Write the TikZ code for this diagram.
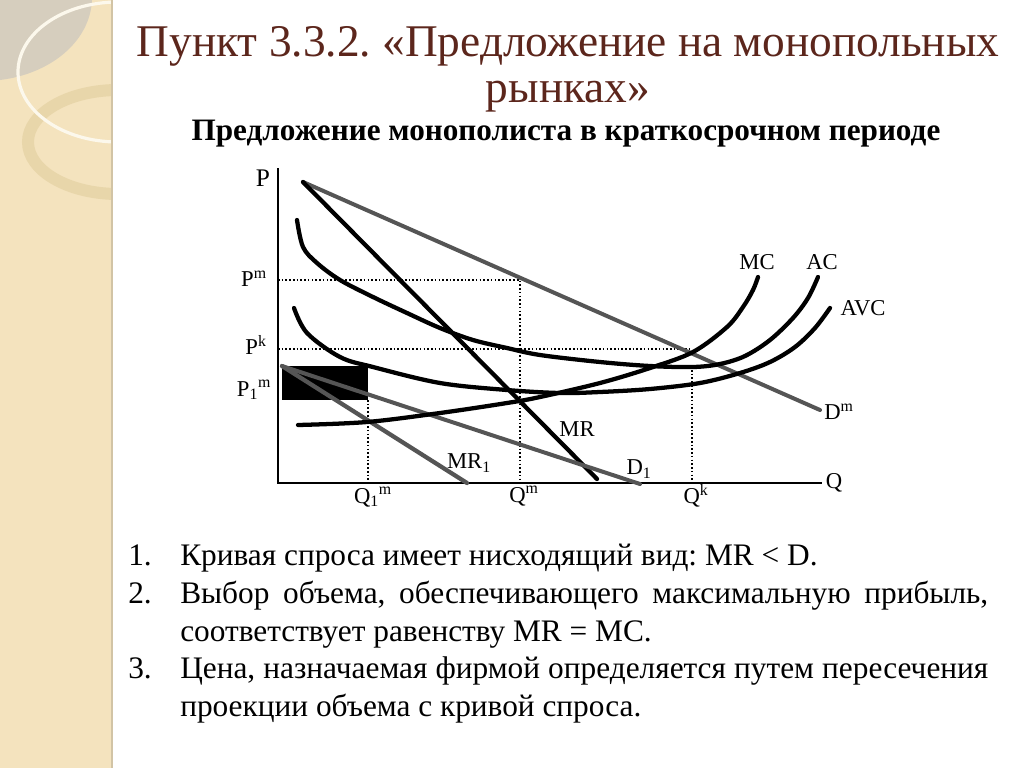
\documentclass[tikz,border=0pt]{standalone}
\usepackage{fontspec}
\setmainfont{Liberation Serif}
\frenchspacing
\definecolor{stripc}{RGB}{244,227,190}
\definecolor{grayreg}{RGB}{214,206,190}
\definecolor{goldring}{RGB}{232,214,170}
\definecolor{whitering}{RGB}{252,248,236}
\definecolor{stripedge}{RGB}{210,196,165}
\definecolor{titlec}{RGB}{92,38,28}
\definecolor{dline}{RGB}{85,85,85}
\begin{document}
\begin{tikzpicture}[x=0.75pt,y=-0.75pt,
  axis/.style={line width=1.6pt,black},
  curve/.style={line width=3.2pt,black,line cap=round},
  demand/.style={line width=3pt,dline,line cap=round},
  dots/.style={line width=1.1pt,black,dash pattern=on 1.2pt off 1.6pt},
  lab/.style={inner sep=0pt,font=\fontsize{17pt}{19pt}\selectfont},
  txt/.style={inner sep=0pt,anchor=base west,font=\fontsize{23.5pt}{27pt}\selectfont},
  ttl/.style={inner sep=0pt,anchor=base,text=titlec,font=\fontsize{34pt}{40pt}\selectfont}]
\useasboundingbox (0,0) rectangle (1024,768);
\fill[white] (0,0) rectangle (1024,768);
% left decorative strip
\begin{scope}
\clip (0,0) rectangle (111,768);
\fill[stripc] (0,0) rectangle (111,768);
\fill[grayreg] (0,0) -- (92,0) .. controls (90,42) and (50,74) .. (0,80) -- cycle;
\draw[goldring,line width=9pt] (118,142) ellipse [x radius=90, y radius=52];
\draw[whitering,line width=2.4pt] (118,72) ellipse [x radius=100, y radius=70];
\end{scope}
\draw[stripedge,line width=1.5pt] (112,0) -- (112,768);
% titles
\node[ttl] (t1) at (568,56) {Пункт 3.3.2. «Предложение на монопольных};
\node[ttl] (t2) at (568,102) {рынках»};
\node[inner sep=0pt,anchor=base,font=\bfseries\fontsize{23.4pt}{27pt}\selectfont] (sub) at (566,140) {Предложение монополиста в краткосрочном периоде};
% axes
\coordinate (Ptop) at (278,168);
\coordinate (O) at (278,483);
\coordinate (Qend) at (822,483);
\draw[axis] (Ptop) -- (O) -- (Qend);
% black box
\fill[black] (282,366) rectangle (368,400);
% dotted lines
\coordinate (Pm) at (278,280);
\coordinate (Qmtop) at (520,280);
\coordinate (Qm) at (520,483);
\coordinate (Pk) at (278,349);
\coordinate (Qktop) at (692,349);
\coordinate (Qkmid) at (692,370);
\coordinate (Qk) at (692,483);
\coordinate (Q1top) at (368,400);
\coordinate (Q1) at (368,483);
\draw[dots] (Pm) -- (Qmtop) -- (Qm);
\draw[dots] (Pk) -- (Qktop);
\draw[dots] (Qkmid) -- (Qk);
\draw[dots] (Q1top) -- (Q1);
% demand and MR lines
\coordinate (A) at (303,182);
\coordinate (Dmend) at (820,410);
\coordinate (MRend) at (597,479);
\coordinate (B) at (282,366);
\coordinate (D1end) at (640,484);
\coordinate (MR1end) at (467,483);
\draw[demand] (A) -- (Dmend);
\draw[curve] (A) -- (MRend);
\draw[demand] (B) -- (D1end);
\draw[curve,dline] (B) -- (MR1end);
% cost curves
\draw[curve] plot[smooth,tension=0.55] coordinates {(297,220) (303,247) (317,263) (340,280) (373,297) (407,313) (440,328) (473,340) (507,348) (540,355) (600,362) (650,366) (693,367) (720,364) (745,356) (770,340) (793,318) (808,298) (818,277)};
\draw[curve] plot[smooth,tension=0.55] coordinates {(294,308) (307,333) (340,357) (373,367) (440,383) (507,390) (560,393) (600,392) (650,389) (700,383) (740,373) (770,362) (795,347) (815,328) (830,308)};
\draw[curve] plot[smooth,tension=0.55] coordinates {(298,425) (367,422) (440,413) (507,403) (540,397) (600,383) (650,368) (693,352) (727,327) (743,307) (753,290) (758,277)};
% axis labels
\node[lab,font=\fontsize{19pt}{21pt}\selectfont] (lP) at (263,178) {P};
\node[lab] (lPm) at (254,279) {P\textsuperscript{m}};
\node[lab] (lPk) at (256,345) {P\textsuperscript{k}};
\node[lab] (lP1) at (254,390) {P\textsubscript{1}\textsuperscript{m}};
\node[lab] (lQ1) at (373,497) {Q\textsubscript{1}\textsuperscript{m}};
\node[lab] (lQm) at (524,496) {Q\textsuperscript{m}};
\node[lab] (lQk) at (696,496) {Q\textsuperscript{k}};
\node[lab] (lQ) at (834,483) {Q};
\node[lab] (lMC) at (757,262) {MC};
\node[lab] (lAC) at (822,262) {AC};
\node[lab] (lAVC) at (863,308) {AVC};
\node[lab] (lDm) at (839,412) {D\textsuperscript{m}};
\node[lab] (lMR) at (577,429) {MR};
\node[lab] (lMR1) at (469,463) {MR\textsubscript{1}};
\node[lab] (lD1) at (639,469) {D\textsubscript{1}};
% list
\node[txt] (n1) at (128,565) {1.};
\node[txt] (l1) at (180,565) {Кривая спроса имеет нисходящий вид: MR < D.};
\node[txt] (n2) at (128,603) {2.};
\node[txt] (l2a) at (180,603) {\makebox[606pt][s]{Выбор объема, обеспечивающего максимальную прибыль,}};
\node[txt] (l2b) at (180,641) {соответствует равенству MR = MC.};
\node[txt] (n3) at (128,678) {3.};
\node[txt] (l3a) at (180,678) {\makebox[606pt][s]{Цена, назначаемая фирмой определяется путем пересечения}};
\node[txt] (l3b) at (180,716) {проекции объема с кривой спроса.};
\end{tikzpicture}
\end{document}
